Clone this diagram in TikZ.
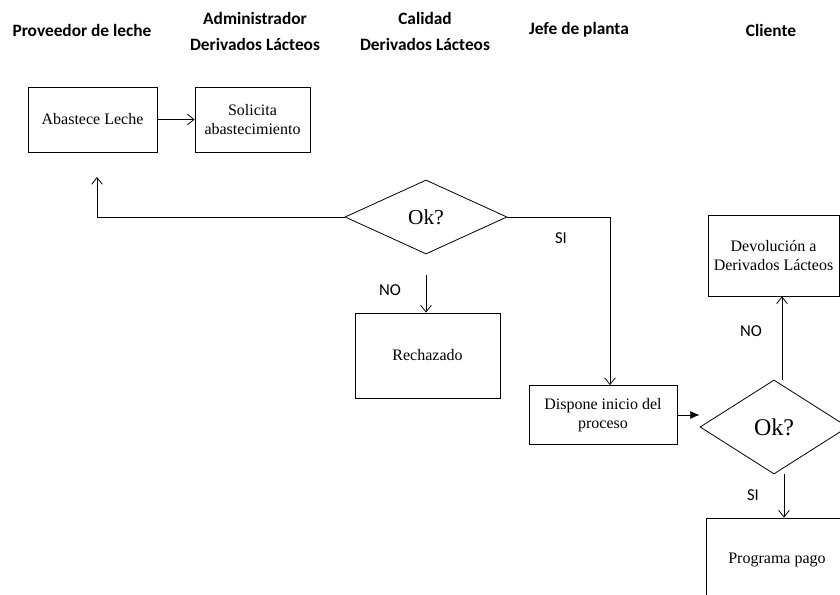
\documentclass[tikz,border=0pt]{standalone}
\usepackage{fontspec}
\setmainfont{Liberation Serif}
\setsansfont{Carlito}
\usepackage{tikz}
\usetikzlibrary{arrows.meta}
\usetikzlibrary{shapes}
\usetikzlibrary{positioning}

\tikzset{
  caja/.style={rectangle,draw,line width=0.6pt,align=center,inner sep=2pt,
    font=\fontsize{12}{14}\selectfont},
  rombo/.style={diamond,draw,line width=0.6pt,inner sep=0pt,
    font=\fontsize{16}{18}\selectfont},
  carril/.style={align=center,font=\sffamily\bfseries\fontsize{13}{19.5}\selectfont},
  etiqueta/.style={font=\sffamily\fontsize{12.5}{14}\selectfont},
  flecha/.style={draw,line width=0.6pt,-{Straight Barb[length=5pt,width=8pt]}},
}

\begin{document}
\begin{tikzpicture}[x=0.75pt,y=-0.75pt]
    \useasboundingbox (0,0) rectangle (840,595);
    \clip (0,0) rectangle (840,595);
    % encabezados
    \node[carril] (hprov) at (82,30) {Proveedor de leche};
    \node[carril] (hadm) at (255,31) {Administrador\\Derivados Lácteos};
    \node[carril] (hcal) at (425,31) {Calidad\\Derivados Lácteos};
    \node[carril] (hjefe) at (579,30) {Jefe de planta};
    \node[carril] (hcli) at (771,30) {Cliente};
    % cajas
    \node[caja,minimum width=96.75pt,minimum height=48.75pt] (abastece) at (92.5,119.5) {Abastece Leche};
    \node[caja,minimum width=86.25pt,minimum height=48.75pt] (solicita) at (252.5,119.5) {Solicita\\abastecimiento};
    \node[rombo,minimum width=121.5pt,minimum height=55.5pt] (ok1) at (426,217) {Ok?};
    \node[caja,minimum width=108.75pt,minimum height=63.75pt] (rechazado) at (427.5,355.5) {Rechazado};
    \node[caja,minimum width=111pt,minimum height=44.25pt] (dispone) at (603,415) {Dispone inicio del\\proceso};
    \node[rombo,minimum width=111pt,minimum height=70.5pt,font=\fontsize{18}{20}\selectfont] (ok2) at (774,427) {Ok?};
    \node[caja,minimum width=98.25pt,minimum height=60.75pt] (devolucion) at (773.5,255.5) {Devolución a\\Derivados Lácteos};
    \node[caja,minimum width=106.5pt,minimum height=63pt] (programa) at (777,560) {Programa pago};
    % etiquetas
    \node[etiqueta] (si1) at (561,238) {SI};
    \node[etiqueta] (no1) at (390,290) {NO};
    \node[etiqueta] (no2) at (751,331) {NO};
    \node[etiqueta] (si2) at (753,495) {SI};
    % conexiones
    \coordinate (regreso) at (97,177);
    \coordinate (giro) at (610,217);
    \draw[flecha] (abastece) -- (solicita);
    \draw[flecha] (ok1.west) -| (regreso);
    \draw[flecha] (ok1.east) -- (giro) -- (giro |- dispone.north);
    \draw[flecha,shorten <=15.75pt] (ok1.south) -- (ok1.south |- rechazado.north);
    \draw[line width=0.6pt,-{Latex[length=7pt,width=6pt]}] (dispone.east) -- (dispone.east -| ok2.west);
    \draw[flecha] ([xshift=6pt]ok2.north) -- ([xshift=6pt]ok2.north |- devolucion.south);
    \draw[flecha] ([xshift=7.5pt]ok2.south) -- ([xshift=7.5pt]ok2.south |- programa.north);
\end{tikzpicture}
\end{document}
